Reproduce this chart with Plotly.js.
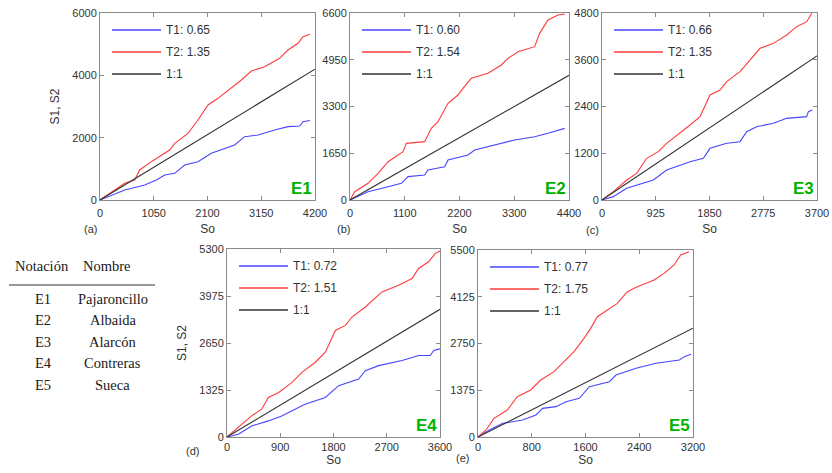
<!DOCTYPE html>
<html>
<head>
<meta charset="utf-8">
<script src="https://cdn.plot.ly/plotly-3.0.1.min.js"></script>
<style>html,body{margin:0;padding:0;background:#fff;}#chart{width:832px;height:473px;}</style>
</head>
<body>
<div id="chart"></div>
<script>
// ---------- DATA ----------
// Panel (a) E1
const e1RedX  = [0,482,677,775,1003,1361,1459,1719,1914,2110,2305,2565,2761,2956,3216,3509,3672,3868,3966,4102];
const e1RedY  = [0,535,642,963,1230,1604,1818,2139,2567,3048,3262,3583,3850,4139,4278,4545,4813,5027,5241,5315];
const e1BlueX = [0,482,873,1101,1264,1459,1654,1914,2175,2435,2630,2826,3086,3412,3672,3900,3966,4102];
const e1BlueY = [0,321,481,642,802,856,1123,1230,1497,1658,1765,2032,2086,2246,2353,2374,2513,2550];
// Panel (b) E2
const e2RedX  = [0,94,362,563,764,1065,1132,1500,1634,1768,1969,2170,2270,2437,2772,3040,3174,3375,3710,3810,3978,4179,4313];
const e2RedY  = [0,294,588,941,1353,1706,2000,2059,2529,2765,3412,3706,3941,4294,4471,4765,5000,5235,5412,5882,6353,6529,6565];
const e2BlueX = [0,362,764,1031,1165,1500,1567,1902,1969,2371,2505,2906,3308,3710,3978,4313];
const e2BlueY = [0,294,471,588,824,882,1059,1176,1412,1588,1765,1941,2118,2235,2353,2529];
// Panel (c) E3
const e3RedX  = [0,195,425,597,769,970,1113,1343,1515,1687,1859,2031,2146,2375,2605,2720,2949,3179,3351,3523,3609];
const e3RedY  = [0,214,513,684,1070,1241,1455,1711,1925,2139,2695,2824,3037,3294,3679,3893,4021,4235,4449,4577,4791];
const e3BlueX = [0,195,425,712,884,1113,1343,1515,1745,1859,2146,2375,2490,2662,2949,3179,3523,3551,3620];
const e3BlueY = [0,86,299,428,513,770,898,984,1070,1326,1455,1497,1754,1882,1968,2096,2139,2267,2310];
// Panel (d) E4
const e4RedX  = [0,192,417,586,699,873,1099,1267,1493,1662,1831,2000,2113,2338,2620,2901,3127,3239,3408,3521,3600];
const e4RedY  = [0,265,595,784,1115,1257,1540,1823,2107,2390,3004,3146,3382,3665,4090,4279,4468,4752,4941,5177,5243];
const e4BlueX = [0,192,417,699,924,1149,1318,1662,1887,2225,2338,2563,2958,3239,3436,3493,3600];
const e4BlueY = [0,76,312,454,595,784,926,1115,1446,1634,1871,2012,2154,2296,2296,2437,2485];
// Panel (e) E5
const e5RedX  = [0,119,238,436,585,784,933,1131,1280,1429,1578,1677,1776,1925,2074,2223,2372,2620,2769,2918,3017,3141];
const e5RedY  = [0,206,549,794,1186,1382,1676,1921,2216,2510,2902,3196,3539,3735,3931,4274,4421,4617,4813,5059,5353,5451];
const e5BlueX = [0,169,367,665,863,962,1161,1310,1508,1657,1955,2054,2352,2650,2997,3071,3170];
const e5BlueY = [0,206,402,500,647,843,892,1039,1137,1480,1627,1823,2020,2167,2265,2363,2431];

const stations   = ['E1','E2','E3','E4','E5'];
const panelTags  = ['(a)','(b)','(c)','(d)','(e)'];
const t1Labels   = ['T1: 0.65','T1: 0.60','T1: 0.66','T1: 0.72','T1: 0.77'];
const t2Labels   = ['T2: 1.35','T2: 1.54','T2: 1.35','T2: 1.51','T2: 1.75'];
const xMax       = [4200,4400,3700,3600,3200];
const yMax       = [6000,6600,4800,5300,5500];
const xTicks     = [[0,1050,2100,3150,4200],[0,1100,2200,3300,4400],[0,925,1850,2775,3700],[0,900,1800,2700,3600],[0,800,1600,2400,3200]];
const yTicks     = [[0,2000,4000,6000],[0,1650,3300,4950,6600],[0,1200,2400,3600,4800],[0,1325,2650,3975,5300],[0,1375,2750,4125,5500]];
const tableNotacion = ['E1','E2','E3','E4','E5'];
const tableNombre   = ['Pajaroncillo','Albaida','Alarcón','Contreras','Sueca'];

const redX  = [e1RedX,e2RedX,e3RedX,e4RedX,e5RedX];
const redY  = [e1RedY,e2RedY,e3RedY,e4RedY,e5RedY];
const blueX = [e1BlueX,e2BlueX,e3BlueX,e4BlueX,e5BlueX];
const blueY = [e1BlueY,e2BlueY,e3BlueY,e4BlueY,e5BlueY];

// ---------- LAYOUT (pixel boxes) ----------
const W = 832, H = 473;
const boxes = [ // [left, right, top, bottom] in px
  [100,315,13,200],
  [350,569,13,200],
  [602,817,13,200],
  [227,440,249,437],
  [478,693,250,437]
];
const tagPos = [[90,229],[343,229],[592,230],[192,451],[462,458]];
const BLUE = '#4646ff', RED = '#ff3b3b', BLACK = '#333333';

const traces = [];
const layout = {
  width: W, height: H,
  margin: {l:0, r:0, t:0, b:0},
  paper_bgcolor: '#fff', plot_bgcolor: '#fff',
  font: {family: 'Arial, Liberation Sans, sans-serif', size: 11, color: '#333'},
  showlegend: false,
  annotations: [], shapes: []
};

for (let i = 0; i < 5; i++) {
  const n = i === 0 ? '' : String(i+1);
  const xa = 'x' + n, ya = 'y' + n;
  const [L,R,T,B] = boxes[i];
  const series = [
    {x: blueX[i], y: blueY[i], name: t1Labels[i], color: BLUE},
    {x: redX[i],  y: redY[i],  name: t2Labels[i], color: RED},
    {x: [0, xMax[i]], y: [0, xMax[i]], name: '1:1', color: BLACK}
  ];
  series.forEach((s, k) => {
    traces.push({x: s.x, y: s.y, xaxis: xa, yaxis: ya, mode: 'lines', name: s.name,
      line: {color: s.color, width: 1.1}});
    // legend entry (sample line + label) inside the panel, top-left
    const ly = 1 - (T + 17 + 22*k)/H;
    layout.shapes.push({type: 'line', xref: 'paper', yref: 'paper',
      x0: (L + 12)/W, x1: (L + 61)/W, y0: ly, y1: ly, line: {color: s.color, width: 1.3}});
    layout.annotations.push({xref: 'paper', yref: 'paper', x: (L + 64)/W, y: ly,
      xanchor: 'left', yanchor: 'middle', text: s.name, showarrow: false,
      font: {size: 12, color: '#333'}});
  });

  const top = i < 3;
  const axCommon = {showline: true, linecolor: '#8a8a8a', linewidth: 1, mirror: 'ticks',
    ticks: 'inside', ticklen: 4, tickcolor: '#8a8a8a', showgrid: false, zeroline: false,
    tickfont: {size: 11, color: '#333'}};
  layout['xaxis' + n] = Object.assign({}, axCommon, {
    domain: [L/W, R/W], anchor: ya, range: [0, xMax[i]], tickmode: 'array',
    tickvals: xTicks[i], ticktext: xTicks[i].map(String),
    ticklabelstandoff: top ? 3 : 0,
    title: {text: 'So', font: {size: 12, color: '#333'}, standoff: top ? 6 : 1}
  });
  layout['yaxis' + n] = Object.assign({}, axCommon, {
    domain: [1 - B/H, 1 - T/H], anchor: xa, range: [0, yMax[i]], tickmode: 'array',
    tickvals: yTicks[i], ticktext: yTicks[i].map(String),
    title: (i === 0 || i === 3) ? {text: 'S1, S2', font: {size: 12, color: '#333'}, standoff: 10} : {text: ''}
  });
  layout.annotations.push({xref: xa + ' domain', yref: ya + ' domain', x: 1, y: 0,
    xanchor: 'right', yanchor: 'bottom', xshift: -1, yshift: 0, text: '<b>' + stations[i] + '</b>', showarrow: false,
    font: {size: 17, color: '#00b300', family: 'Arial, Liberation Sans, sans-serif'}});
  layout.annotations.push({xref: 'paper', yref: 'paper', x: tagPos[i][0]/W, y: 1 - tagPos[i][1]/H,
    xanchor: 'center', yanchor: 'middle', text: panelTags[i], showarrow: false,
    font: {size: 11, color: '#333'}});
}

// ---------- TABLE ----------
const serif = 'Liberation Serif, Times New Roman, serif';
const tFont = {family: serif, size: 14.5, color: '#1a1a1a'};
layout.annotations.push({xref:'paper', yref:'paper', x: 42/W, y: 1 - 266/H, text: 'Notación',
  showarrow: false, xanchor: 'center', yanchor: 'middle', font: tFont});
layout.annotations.push({xref:'paper', yref:'paper', x: 107/W, y: 1 - 266/H, text: 'Nombre',
  showarrow: false, xanchor: 'center', yanchor: 'middle', font: tFont});
layout.shapes.push({type: 'line', xref: 'paper', yref: 'paper', x0: 9/W, x1: 155/W,
  y0: 1 - 285/H, y1: 1 - 285/H, line: {color: '#777', width: 1.5}});
const rowY = [299, 320, 342, 363, 385];
for (let r = 0; r < tableNotacion.length; r++) {
  layout.annotations.push({xref:'paper', yref:'paper', x: 43/W, y: 1 - rowY[r]/H, text: tableNotacion[r],
    showarrow: false, xanchor: 'center', yanchor: 'middle', font: tFont});
  layout.annotations.push({xref:'paper', yref:'paper', x: 113/W, y: 1 - rowY[r]/H, text: tableNombre[r],
    showarrow: false, xanchor: 'center', yanchor: 'middle', font: tFont});
}

Plotly.newPlot('chart', traces, layout, {staticPlot: true, displayModeBar: false});
</script>
</body>
</html>
